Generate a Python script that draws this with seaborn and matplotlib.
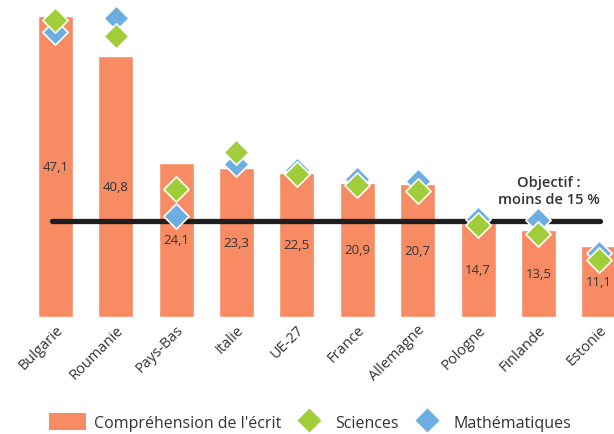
import pandas as pd
import matplotlib
matplotlib.use("Agg")
import matplotlib.pyplot as plt
import seaborn as sns
from matplotlib.lines import Line2D
from matplotlib.patches import Patch

pays = ["Bulgarie", "Roumanie", "Pays-Bas", "Italie", "UE-27", "France",
        "Allemagne", "Pologne", "Finlande", "Estonie"]
ecrit = [47.1, 40.8, 24.1, 23.3, 22.5, 20.9, 20.7, 14.7, 13.5, 11.1]
sciences = [46.5, 44.0, 20.0, 25.8, 22.3, 20.6, 19.6, 14.3, 12.9, 8.8]
maths = [44.6, 46.8, 15.8, 23.9, 23.0, 21.6, 21.3, 15.3, 15.2, 10.0]
objectif = 15

c_bar = "#F78B64"
c_sci = "#A2CD3A"
c_math = "#6CAEE0"
c_txt = "#333333"

df = pd.DataFrame({"Pays": pays, "Ecrit": ecrit, "Sciences": sciences, "Maths": maths})

sns.set_style("white")
plt.rcParams["font.family"] = ["Open Sans", "DejaVu Sans"]

fig = plt.figure(figsize=(6.14, 4.35), dpi=100)
ax = fig.add_axes([25 / 614, 117.5 / 435, 589 / 614, 312.6 / 435])

sns.barplot(data=df, x="Pays", y="Ecrit", color=c_bar, saturation=1, width=0.58, ax=ax)

for i, v in enumerate(ecrit):
    ax.text(i, v / 2, f"{v:.1f}".replace(".", ","), ha="center", va="center",
            fontsize=9.5, color=c_txt)

ax.plot([-0.05, 9.02], [objectif, objectif], color="#1e1e1e", lw=3.8,
        solid_capstyle="round", zorder=3)

sns.scatterplot(data=df, x="Pays", y="Maths", marker="D", s=165, color=c_math,
                edgecolor="white", linewidth=1.2, zorder=4, ax=ax)
sns.scatterplot(data=df, x="Pays", y="Sciences", marker="D", s=165, color=c_sci,
                edgecolor="white", linewidth=1.2, zorder=5, ax=ax)

ax.text(8.17, 19.7, "Objectif :\nmoins de 15 %", ha="center", va="center",
        fontsize=10.5, fontweight="semibold", color=c_txt, linespacing=1.25)

ax.set_xlim(-0.5, 9.25)
ax.set_ylim(0, 49)
ax.set_xlabel("")
ax.set_ylabel("")
ax.set_yticks([])
sns.despine(ax=ax, left=True, bottom=True)
ax.tick_params(axis="x", length=0, pad=4)
plt.setp(ax.get_xticklabels(), rotation=45, ha="right", rotation_mode="anchor",
         fontsize=10.5, color=c_txt)

handles = [
    Patch(facecolor=c_bar, edgecolor="none"),
    Line2D([], [], marker="D", ls="none", color=c_sci, markersize=13, markeredgecolor="white"),
    Line2D([], [], marker="D", ls="none", color=c_math, markersize=13, markeredgecolor="white"),
]
fig.legend(handles, ["Compréhension de l'écrit", "Sciences", "Mathématiques"],
           loc="center", bbox_to_anchor=(0.505, 0.027), ncol=3, frameon=False,
           fontsize=11.5, handlelength=2.3, handleheight=1.2, columnspacing=0.6,
           handletextpad=0.5, labelcolor=c_txt)

fig.savefig("out.png", dpi=100)
